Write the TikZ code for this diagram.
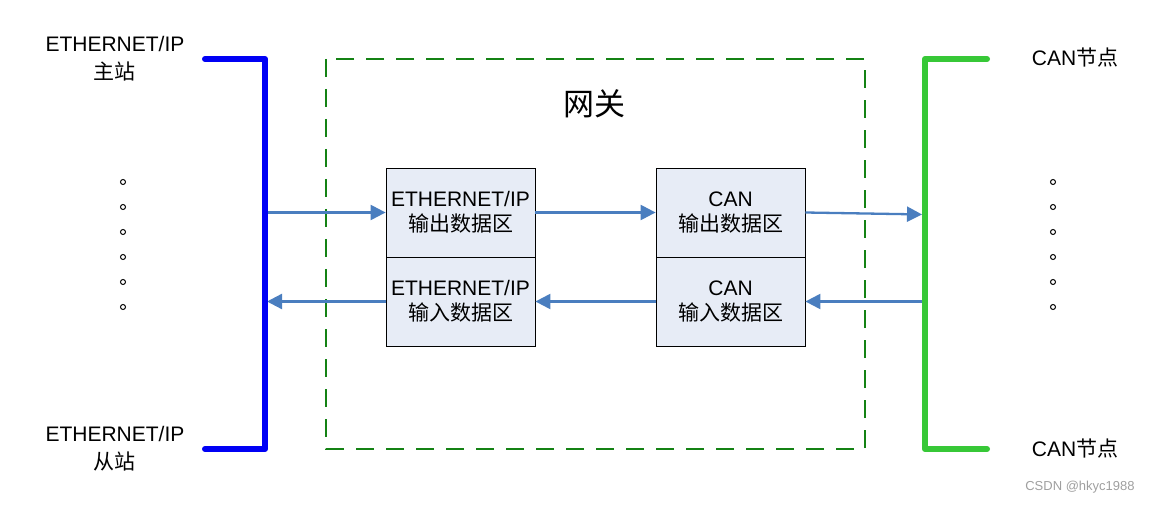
\documentclass[tikz,border=0pt]{standalone}
\usepackage{fontspec}
\setmainfont{Liberation Sans}
\newfontfamily\cjk{Noto Sans CJK SC}
\usetikzlibrary{arrows.meta}
\definecolor{boxfill}{HTML}{E7ECF6}
\definecolor{flowblue}{HTML}{4A7EBF}
\definecolor{gwgreen}{RGB}{20,130,20}
\definecolor{cangreen}{RGB}{55,200,55}
\definecolor{busblue}{RGB}{0,0,245}
\begin{document}
\begin{tikzpicture}[x=1pt,y=-1pt,
  bus/.style={line width=6pt, line cap=round, line join=round},
  databox/.style={draw=black, line width=0.8pt, fill=boxfill, minimum width=149pt, minimum height=89pt, inner sep=0pt, align=center, font=\fontsize{21}{25}\selectfont},
  flow/.style={draw=flowblue, line width=2.3pt, -{Triangle[length=15pt,width=15pt]}},
  label/.style={align=center, font=\fontsize{21}{28}\selectfont, inner sep=0pt},
  dotmark/.style={circle, draw=black, line width=1pt, fill=white, minimum size=5pt, inner sep=0pt},
  gateway/.style={draw=gwgreen, line width=2.6pt, dash pattern=on 18pt off 12pt}
]
\useasboundingbox (0,0) rectangle (1157,505);

% gateway frame
\coordinate (gtl) at (326,59);
\coordinate (gbr) at (865,449);
\draw[gateway] (gtl) rectangle (gbr);
\node[font=\fontsize{31}{33}\selectfont\cjk, inner sep=0pt] (gw) at (594,104) {网关};

% data boxes
\node[databox] (eo) at (460.5,212.5) {ETHERNET/IP\\{\cjk 输出数据区}};
\node[databox] (ei) at (460.5,301.5) {ETHERNET/IP\\{\cjk 输入数据区}};
\node[databox] (co) at (730.5,212.5) {CAN\\{\cjk 输出数据区}};
\node[databox] (ci) at (730.5,301.5) {CAN\\{\cjk 输入数据区}};

% bus corner coordinates
\coordinate (b1) at (205,59);
\coordinate (b2) at (265,59);
\coordinate (b3) at (265,449);
\coordinate (b4) at (205,449);
\coordinate (g1) at (987,59);
\coordinate (g2) at (925,59);
\coordinate (g3) at (925,449);
\coordinate (g4) at (987,449);

% flows
\draw[flow] (eo.west -| b2) -- (eo.west);
\draw[flow] (eo.east) -- (co.west);
\draw[flow, shorten >=3pt] (co.east) -- ([yshift=-2pt]co.east -| g2);
\draw[flow, shorten <=3pt] (ci.east -| g2) -- (ci.east);
\draw[flow] (ci.west) -- (ei.west -| eo.east);
\draw[flow, shorten >=2pt] (ei.west) -- (ei.west -| b2);

% buses
\draw[bus, busblue] (b1) -- (b2) -- (b3) -- (b4);
\draw[bus, cangreen] (g1) -- (g2) -- (g3) -- (g4);

% labels
\node[label] (m) at (115,59) {ETHERNET/IP\\{\cjk 主站}};
\node[label] (s) at (115,449) {ETHERNET/IP\\{\cjk 从站}};
\node[label] (c1) at (1075,58) {CAN{\cjk 节点}};
\node[label] (c2) at (1075,449) {CAN{\cjk 节点}};

% dots
\foreach \i/\yy in {1/182,2/207,3/232,4/257,5/282,6/307} {
  \node[dotmark] (ld\i) at (123,\yy) {};
  \node[dotmark] (rd\i) at (1053,\yy) {};
}

\node[font=\fontsize{13}{15}\selectfont, text=gray!75, inner sep=0pt] (wm) at (1080,487) {CSDN @hkyc1988};
\end{tikzpicture}
\end{document}
